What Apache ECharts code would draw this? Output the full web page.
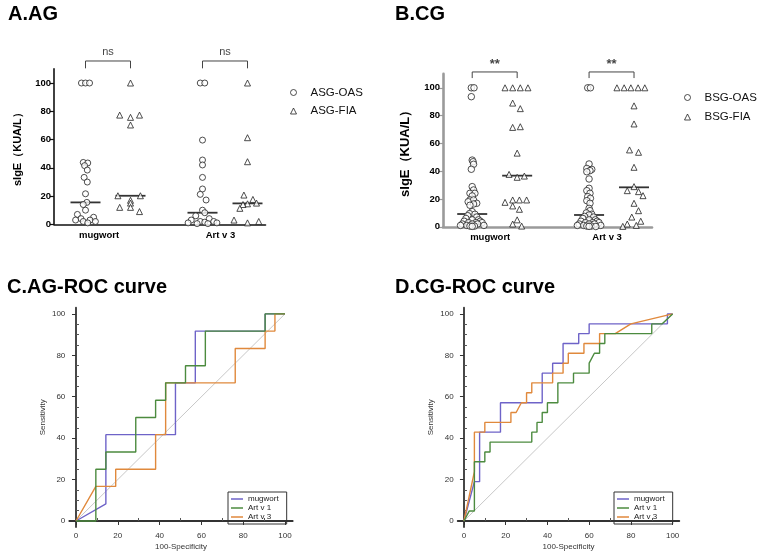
<!DOCTYPE html>
<html><head><meta charset="utf-8">
<script src="https://cdn.jsdelivr.net/npm/echarts@6/dist/echarts.min.js"></script>
<style>html,body{margin:0;padding:0;background:#fff}#c{width:758px;height:552px}</style>
</head><body><div id="c"></div>
<script>
// ================= DATA =================
const dotCategories = ['mugwort', 'Art v 3'];
const yTicks = [0, 20, 40, 60, 80, 100];
const rocTicks = [0, 20, 40, 60, 80, 100];

// Panel A (AG) sIgE values
const A_mugwort_OAS = [100,100,100,43.8,43.4,41.5,38.4,33.2,29.9,21.6,15.5,14,10,7,5,4,3,3,2,2,1];
const A_mugwort_FIA = [100,77.3,77.3,75.7,70.3,20.2,20.2,17,15,12,12,9];
const A_artv3_OAS   = [100,100,59.6,45.5,42,33.2,25,21.2,17.2,10,8.2,6,4,3,2,2,1.5,1,1,0.5,0.5];
const A_artv3_FIA   = [100,61.3,44.3,20.7,17.6,15,14.5,14,11.3,3,2,1];
const A_medians     = [15.5, 20.2, 8.2, 14.8];
// Panel B (CG) sIgE values
const B_mugwort_OAS = [100,100,93.6,48,46.8,45,41.4,28.9,26.5,24.1,24.1,22.2,19.3,19.3,18,16.9,16.4,15.5,10.9,9.5,9,8,7,6,5,5,4,4,3,3,3,2,2,2,1,1,1,0.5,0.5,0.3];
const B_mugwort_FIA = [100,100,100,100,89,85,71.5,72,53,37.7,35.6,36.5,17.6,19.3,19.3,19.3,15,12.6,5,2,0.5];
const B_artv3_OAS   = [100,100,45.2,42,41.3,40.4,39.6,34.4,27.7,26,24.1,21.7,20.5,18.8,16.9,13.3,11.6,10,9,8.5,7.5,7,6,5,5,4,4,3,3,3,2,2,2,1,1,1,0.5,0.5,0.3,0.2];
const B_artv3_FIA   = [100,100,100,100,100,87,74,55.3,53.6,42.8,28.9,26,25.3,22.4,16.9,11.6,7,4,2,1,0.3];
const B_medians     = [9.2, 36.8, 8.5, 28.4];
const sigA = ['ns', 'ns'];
const sigB = ['**', '**'];

// ROC curves, [100-Specificity, Sensitivity]
const C_mugwort = [[0,0],[14.3,8.3],[14.3,41.7],[47.6,41.7],[47.6,66.7],[57.1,66.7],[57.1,91.7],[90.5,91.7],[90.5,100],[100,100]];
const C_artv1   = [[0,0],[9.5,0],[9.5,25],[14.3,25],[14.3,33.3],[28.6,33.3],[28.6,50],[38.1,50],[38.1,58.3],[42.9,58.3],[42.9,66.7],[52.4,66.7],[52.4,75],[61.9,75],[61.9,91.7],[90.5,91.7],[90.5,100],[100,100]];
const C_artv3   = [[0,0],[9.5,16.7],[19.0,16.7],[19.0,25],[38.1,25],[38.1,41.7],[42.9,41.7],[42.9,66.7],[76.2,66.7],[76.2,83.3],[90.5,83.3],[90.5,91.7],[95.2,91.7],[95.2,100],[100,100]];
const D_mugwort = [[0,0],[5,19.0],[7.5,19.0],[7.5,42.9],[17.5,42.9],[17.5,57.1],[37.5,57.1],[37.5,71.4],[42.5,71.4],[42.5,76.2],[47.5,76.2],[47.5,85.7],[55,85.7],[55,90.5],[60,90.5],[60,95.2],[97.5,95.2],[97.5,100],[100,100]];
const D_artv1   = [[0,0],[2.5,4.8],[5,4.8],[5,28.6],[10,28.6],[10,33.3],[12.5,33.3],[12.5,38.1],[32.5,38.1],[32.5,42.9],[35,42.9],[35,47.6],[37.5,47.6],[37.5,52.4],[40,52.4],[40,57.1],[45,57.1],[45,66.7],[52.5,66.7],[52.5,71.4],[60,71.4],[60,76.2],[62.5,81.0],[65,81.0],[65,85.7],[67.5,85.7],[67.5,90.5],[90,90.5],[90,95.2],[95,95.2],[100,100]];
const D_artv3   = [[0,0],[5,23.8],[5,42.9],[10,42.9],[10,47.6],[22.5,47.6],[22.5,52.4],[25,52.4],[27.5,57.1],[30,57.1],[30,61.9],[32.5,61.9],[32.5,66.7],[42.5,66.7],[42.5,71.4],[47.5,71.4],[47.5,76.2],[50,76.2],[50,81.0],[57.5,81.0],[57.5,85.7],[65,85.7],[65,90.5],[72.5,90.5],[80,95.2],[100,100]];
const rocNames = ['mugwort', 'Art v 1', 'Art v 3'];

// ================= LAYOUT (jitter, in column units) =================
const colPos = [1, 2, 3.6, 4.6];
const jA = [
  [-0.09,0,0.09,-0.05,0.05,-0.02,0.04,-0.03,0.04,0,0.03,-0.05,0,-0.18,0.18,-0.1,0.1,-0.22,0.22,-0.05,0.05],
  [0,-0.24,0.2,0,0,-0.28,0.22,0,0,-0.24,0,0.2],
  [-0.05,0.05,0,0,0,0,0,-0.05,0.08,0,0.05,-0.15,0.15,-0.25,0.25,-0.05,0.05,-0.32,0.32,-0.12,0.12],
  [0,0,0,-0.08,0.12,0.2,0,-0.1,-0.17,-0.3,0.25,0]
];
const jB = [
  [-0.02,0.04,-0.02,0,0.02,0.03,-0.02,0,0.03,-0.05,0.06,0,-0.05,0.03,-0.09,0.1,0.03,-0.05,0,-0.06,0.06,-0.1,0.1,-0.14,0.14,0,-0.18,0.18,-0.08,0.08,0.22,-0.22,0,0.12,-0.12,0.26,-0.26,0.05,-0.05,0],
  [-0.27,-0.1,0.07,0.24,-0.1,0.07,-0.1,0.07,0,-0.18,0,0.16,-0.27,-0.1,0.05,0.21,-0.1,0.05,0,-0.1,0.1],
  [-0.03,0.03,0,-0.05,0.06,0.02,-0.05,0,0,-0.05,0.02,-0.03,0.03,-0.05,0.02,0,0.02,-0.06,0.06,0,-0.1,0.1,-0.14,0.14,0,-0.18,0.18,-0.08,0.08,0.22,-0.22,0,0.12,-0.12,0.26,-0.26,0.05,-0.05,0,0.15],
  [-0.38,-0.22,-0.07,0.09,0.24,0,0,-0.1,0.1,0,0,-0.15,0.1,0.2,0,0.1,-0.05,0.15,-0.15,0.05,-0.25]
];

function pts(vals, col, jit){ return vals.map((v,i)=>[colPos[col] + (jit[i]||0), v]); }

const ff = 'Liberation Sans, Arial, sans-serif';
const rocColors = ['#6e63c8', '#4c8b3f', '#e0893c'];

const chart = echarts.init(document.getElementById('c'), null, {renderer:'canvas'});

function dotAxes(gi, color, lw, nameSize, nameGap, labelVals, xmin){
  return {
    x: {type:'value', gridIndex:gi, min:xmin, max:5.0,
        axisLine:{show:true, lineStyle:{color:color, width:lw}},
        axisTick:{show:false}, splitLine:{show:false},
        axisLabel:{customValues:labelVals, formatter:(v)=> v < 3 ? dotCategories[0] : dotCategories[1],
                   fontFamily:ff, fontWeight:'bold', fontSize:9.5, color:'#000', margin:6}},
    y: {type:'value', gridIndex:gi, min:0, max:110,
        name:'sIgE（KUA/L）', nameLocation:'middle', nameGap:nameGap,
        nameTextStyle:{fontFamily:ff, fontWeight:'bold', fontSize:nameSize, color:'#000'},
        axisLine:{show:true, lineStyle:{color:color, width:lw}},
        axisTick:{show:true, customValues:yTicks, length:4, lineStyle:{color:color, width:1.2}},
        splitLine:{show:false},
        axisLabel:{customValues:yTicks, fontFamily:ff, fontWeight:'bold', fontSize:9.5, color:'#000', margin:3}}
  };
}
const axA = dotAxes(0, '#111', 1.6, 11, 31, [1.3, 4.0], 0.3);
const axB = dotAxes(1, '#9a9a9a', 2.6, 13, 31, [1.4, 4.0], 0.35);

function rocAxes(gi, xmin, xmax){
  const lab = {fontFamily:ff, fontSize:8, color:'#333'};
  return [
    {x:{type:'value', gridIndex:gi, min:xmin, max:xmax, name:'100-Specificity', nameLocation:'middle', nameGap:16,
        nameTextStyle:Object.assign({}, lab, {fontSize:8}),
        axisLine:{lineStyle:{color:'#333', width:1.8}},
        axisTick:{customValues:rocTicks, length:4, lineStyle:{color:'#333'}},
        axisLabel:Object.assign({customValues:rocTicks, margin:5}, lab), splitLine:{show:false}},
     y:{type:'value', gridIndex:gi, min:-2.9, max:103, name:'Sensitivity', nameLocation:'middle', nameGap:23,
        nameTextStyle:Object.assign({}, lab, {fontSize:8}),
        axisLine:{lineStyle:{color:'#333', width:1.8}},
        axisTick:{customValues:rocTicks, length:4, lineStyle:{color:'#333'}},
        axisLabel:Object.assign({customValues:rocTicks, margin:4}, lab), splitLine:{show:false}}},
    {x:{type:'value', gridIndex:gi, min:xmin, max:xmax, axisLine:{show:false},
        axisTick:{customValues:[10,30,50,70,90], length:3, lineStyle:{color:'#555'}},
        axisLabel:{show:false}, splitLine:{show:false}},
     y:{type:'value', gridIndex:gi, min:-2.9, max:103, axisLine:{show:false},
        axisTick:{customValues:[5,10,15,25,30,35,45,50,55,65,70,75,85,90,95], length:3, lineStyle:{color:'#555'}},
        axisLabel:{show:false}, splitLine:{show:false}}}
  ];
}
const rC = rocAxes(2, -3.2, 103.7);
const rD = rocAxes(3, -3.0, 103.2);

const xAxes = [axA.x, axB.x, rC[0].x, rD[0].x, rC[1].x, rD[1].x];
const yAxes = [axA.y, axB.y, rC[0].y, rD[0].y, rC[1].y, rD[1].y];

const symStyle = {color:'#fff', borderColor:'#222', borderWidth:1};
const series = [];
function dotPanel(ai, names, groups, jit, meds, sig, brLow, brHigh, sigY, sz){
  series.push({name:names[0], type:'scatter', xAxisIndex:ai, yAxisIndex:ai, symbol:'circle', symbolSize:sz[0], itemStyle:symStyle, clip:false,
               data: pts(groups[0],0,jit[0]).concat(pts(groups[2],2,jit[2]))});
  series.push({name:names[1], type:'scatter', xAxisIndex:ai, yAxisIndex:ai, symbol:'triangle', symbolSize:sz[1], itemStyle:symStyle, clip:false,
               data: pts(groups[1],1,jit[1]).concat(pts(groups[3],3,jit[3]))});
  series.push({name:'median'+ai, type:'scatter', xAxisIndex:ai, yAxisIndex:ai, symbol:'rect', symbolSize:[30,1.8], itemStyle:{color:'#000'}, z:1, clip:false,
               data: meds.map((m,i)=>[colPos[i], m])});
  for (let k=0;k<2;k++){
    const a = colPos[2*k], b = colPos[2*k+1];
    series.push({name:'br'+ai+k, type:'line', xAxisIndex:ai, yAxisIndex:ai, symbol:'none', clip:false, silent:true,
                 lineStyle:{color:'#444', width:1}, data:[[a,brLow],[a,brHigh],[b,brHigh],[b,brLow]]});
    series.push({name:'sig'+ai+k, type:'scatter', xAxisIndex:ai, yAxisIndex:ai, symbolSize:0, clip:false, silent:true,
                 label:{show:true, position:'inside', formatter:sig[k], fontFamily:ff, fontSize: sig[k]==='**'?13:11, fontWeight: sig[k]==='**'?'bold':'normal', color:'#111'},
                 data:[[(a+b)/2, sigY]]});
  }
}
dotPanel(0, ['ASG-OAS','ASG-FIA'], [A_mugwort_OAS,A_mugwort_FIA,A_artv3_OAS,A_artv3_FIA], jA, A_medians, sigA, 110.4, 115.6, 122, [6,6]);
dotPanel(1, ['BSG-OAS','BSG-FIA'], [B_mugwort_OAS,B_mugwort_FIA,B_artv3_OAS,B_artv3_FIA], jB, B_medians, sigB, 107, 111.4, 117, [6.5,6]);

function rocPanel(ai, curves){
  series.push({name:'diag'+ai, type:'line', xAxisIndex:ai, yAxisIndex:ai, symbol:'none', silent:true,
               lineStyle:{color:'#c8c8c8', width:1}, data:[[0,0],[100,100]]});
  curves.forEach((c,i)=>{
    series.push({name:rocNames[i], type:'line', xAxisIndex:ai, yAxisIndex:ai, symbol:'none', showSymbol:false,
                 itemStyle:{color:rocColors[i]}, lineStyle:{color:rocColors[i], width:1.4}, data:c, z: i===1?4:3});
  });
}
rocPanel(2, [C_mugwort, C_artv1, C_artv3]);
rocPanel(3, [D_mugwort, D_artv1, D_artv3]);

const legendDot = (names, left, top, gap)=>({data:names, orient:'vertical', left:left, top:top, itemWidth:6, itemHeight:6, itemGap:gap,
   textStyle:{fontFamily:ff, fontSize:11.5, color:'#111', padding:[0,0,0,9]}, itemStyle:{borderWidth:1}, selectedMode:false});
const legendRoc = (left, top)=>({data:rocNames, orient:'vertical', left:left, top:top, icon:'rect', itemWidth:12, itemHeight:1.5, itemGap:1,
   padding:[3,8,3,3], borderColor:'#333', borderWidth:1, textStyle:{fontFamily:ff, fontSize:8, color:'#222'}, selectedMode:false});

chart.setOption({
  animation:false,
  backgroundColor:'#fff',
  title:[
    {text:'A.AG', left:3, top:-1, textStyle:{fontFamily:ff, fontWeight:'bold', fontSize:20, color:'#000'}},
    {text:'B.CG', left:390, top:-1, textStyle:{fontFamily:ff, fontWeight:'bold', fontSize:20, color:'#000'}},
    {text:'C.AG-ROC curve', left:2, top:272, textStyle:{fontFamily:ff, fontWeight:'bold', fontSize:20, color:'#000'}},
    {text:'D.CG-ROC curve', left:390, top:272, textStyle:{fontFamily:ff, fontWeight:'bold', fontSize:20, color:'#000'}}
  ],
  legend:[legendDot(['ASG-OAS','ASG-FIA'], 285, 81.5, 6.5), legendDot(['BSG-OAS','BSG-FIA'], 679, 86.5, 7.5),
          legendRoc(228, 492), legendRoc(614, 492)],
  grid:[
    {left:54, top:68.9, width:211.5, height:155.4},
    {left:443, top:73.9, width:209, height:152.9},
    {left:69.3, top:307.7, width:223.4, height:220.6},
    {left:457.7, top:307.7, width:221.6, height:220.6}
  ],
  xAxis:xAxes, yAxis:yAxes, series:series
});
</script></body></html>
